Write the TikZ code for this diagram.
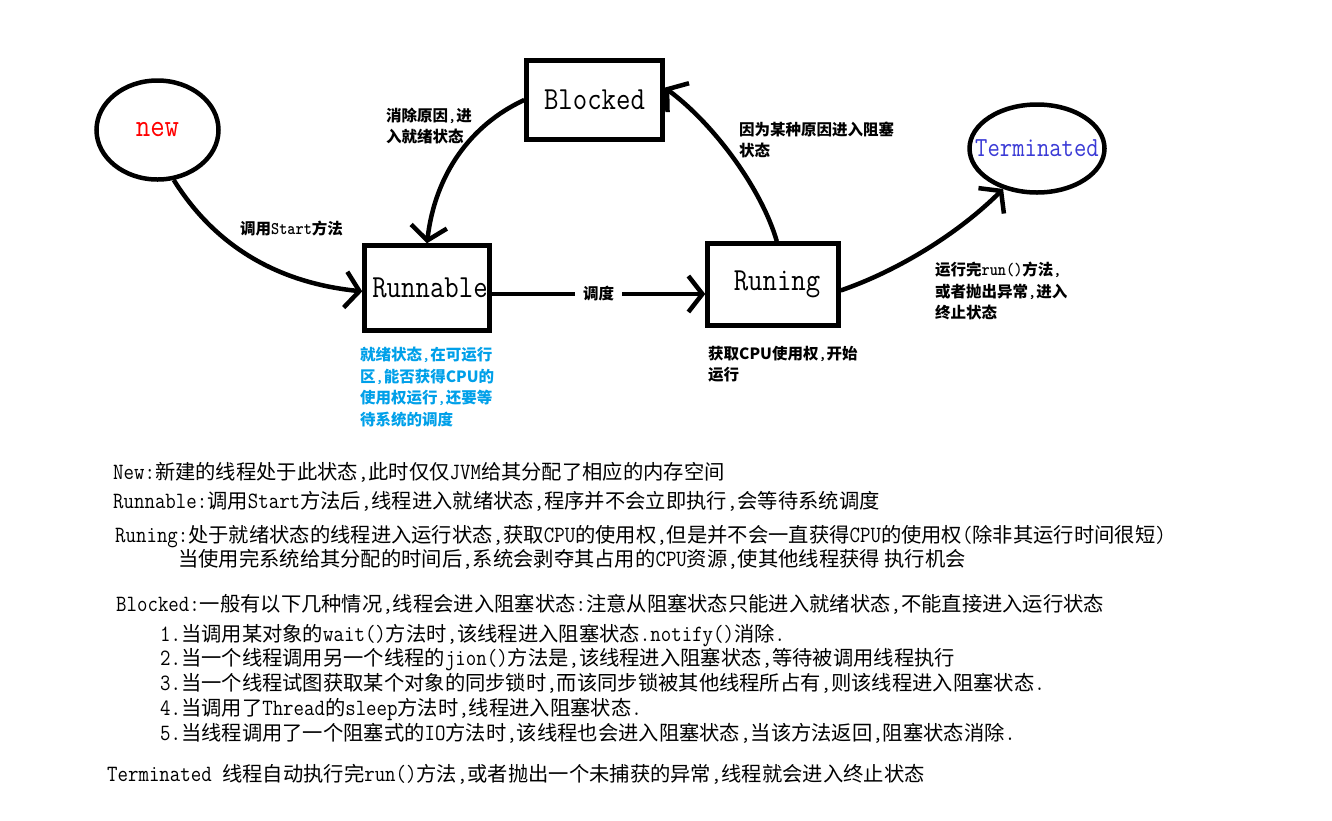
\documentclass[tikz,border=0pt]{standalone}
\usepackage{graphicx}
\usepackage{fontspec}
\setmainfont{Noto Sans CJK SC}
\usetikzlibrary{arrows.meta,shapes.geometric}
\definecolor{newred}{HTML}{FF0000}
\definecolor{termblue}{HTML}{3A3AD6}
\definecolor{noteblue}{HTML}{00A0E9}
\newcommand\en[1]{\scalebox{1}[1.15]{\ttfamily #1}}
\newcommand\cm{{\ttfamily,}}
\newcommand\tall[1]{\scalebox{1}[1.15]{#1}}
\tikzset{
  statefont/.style={font=\ttfamily\fontsize{#1}{#1}\selectfont},
  statebox/.style={draw,line width=4.5pt,inner sep=0pt,statefont=28pt},
  stateoval/.style={ellipse,draw,line width=4.5pt,inner sep=0pt},
  arr/.style={line width=4.5pt,-{Straight Barb[length=14pt,width=36pt]}},
  note/.style={align=left,anchor=west,inner sep=0pt,font=\bfseries\fontsize{15.5pt}{21.5pt}\selectfont},
  desc/.style={anchor=base west,inner sep=0pt,font=\fontsize{20.3pt}{24pt}\selectfont}
}

\begin{document}
\begin{tikzpicture}[x=1pt,y=-1pt]
  \path[use as bounding box,fill=white] (0,0) rectangle (1332,820);
  % states
  \node[stateoval,minimum width=122pt,minimum height=99pt,
        label={[text=newred,statefont=28pt]center:\tall{new}}] (new) at (157.5,130) {};
  \node[statebox,minimum width=136pt,minimum height=79pt] (blocked) at (594.5,100) {\tall{Blocked}};
  \node[statebox,minimum width=125pt,minimum height=85pt] (runnable) at (427,288) {\hspace*{6pt}\tall{Runnable}};
  \node[statebox,minimum width=131pt,minimum height=82pt] (runing) at (773,284.5) {\hspace*{8pt}\tall{Runing}};
  \node[stateoval,minimum width=135pt,minimum height=88pt,
        label={[text=termblue,statefont=24pt]center:\tall{Terminated}}] (terminated) at (1037,148.5) {};
  \coordinate (midline) at (0,294);

  % transitions
  \draw[arr] (new.-72) .. controls (225,262) and (300,285) .. (runnable.183);
  \draw[arr] (blocked.west) .. controls (470,125) and (435,175) .. (runnable.north);
  \draw[arr] (runnable.east |- midline) -- node[fill=white,inner xsep=8pt,inner ysep=4pt,
        font=\bfseries\fontsize{15.5pt}{15.5pt}\selectfont] (sched) {调度} (runing.west |- midline);
  \draw[arr] (runing.85) .. controls (762,190) and (715,125) .. (blocked.10);
  \draw[arr] (runing.-5) .. controls (900,270) and (960,232) .. (terminated.-130);

  % edge and state notes
  \node[note] (startNote) at (240,229) {调用\en{Start}方法};
  \node[note] (wakeNote) at (386,126) {消除原因\cm 进\\入就绪状态};
  \node[note] (blockNote) at (739,140) {因为某种原因进入阻塞\\状态};
  \node[note] (endNote) at (935,291) {运行完\en{run()}方法\cm\\或者抛出异常\cm 进入\\终止状态};
  \node[note,text=noteblue] (readyNote) at (360,387) {就绪状态\cm 在可运行\\区\cm 能否获得CPU的\\使用权运行\cm 还要等\\待系统的调度};
  \node[note] (runNote) at (708,364) {获取CPU使用权\cm 开始\\运行};

  % description lines
  \node[desc] (descNew) at (113,479) {\en{New:}新建的线程处于此状态\cm 此时仅仅\en{JVM}给其分配了相应的内存空间};
  \node[desc] (descRunnable) at (113,508) {\en{Runnable:}调用\en{Start}方法后\cm 线程进入就绪状态\cm 程序并不会立即执行\cm 会等待系统调度};
  \node[desc] (descRuning) at (115,542) {\en{Runing:}处于就绪状态的线程进入运行状态\cm 获取\en{CPU}的使用权\cm 但是并不会一直获得\en{CPU}的使用权\en{(}除非其运行时间很短\en{)}};
  \node[desc] (descRuning2) at (178,566) {当使用完系统给其分配的时间后\cm 系统会剥夺其占用的\en{CPU}资源\cm 使其他线程获得 执行机会};
  \node[desc] (descBlocked) at (116,611) {\en{Blocked:}一般有以下几种情况\cm 线程会进入阻塞状态\en{:}注意从阻塞状态只能进入就绪状态\cm 不能直接进入运行状态};
  \node[desc] (caseA) at (160,641) {\en{1.}当调用某对象的\en{wait()}方法时\cm 该线程进入阻塞状态\en{.notify()}消除\en{.}};
  \node[desc] (caseB) at (160,665) {\en{2.}当一个线程调用另一个线程的\en{jion()}方法是\cm 该线程进入阻塞状态\cm 等待被调用线程执行};
  \node[desc] (caseC) at (160,690) {\en{3.}当一个线程试图获取某个对象的同步锁时\cm 而该同步锁被其他线程所占有\cm 则该线程进入阻塞状态\en{.}};
  \node[desc] (caseD) at (160,715) {\en{4.}当调用了\en{Thread}的\en{sleep}方法时\cm 线程进入阻塞状态\en{.}};
  \node[desc] (caseE) at (160,740) {\en{5.}当线程调用了一个阻塞式的\en{IO}方法时\cm 该线程也会进入阻塞状态\cm 当该方法返回\cm 阻塞状态消除\en{.}};
  \node[desc] (descTerminated) at (107,781) {\en{Terminated }线程自动执行完\en{run()}方法\cm 或者抛出一个未捕获的异常\cm 线程就会进入终止状态};
\end{tikzpicture}
\end{document}
